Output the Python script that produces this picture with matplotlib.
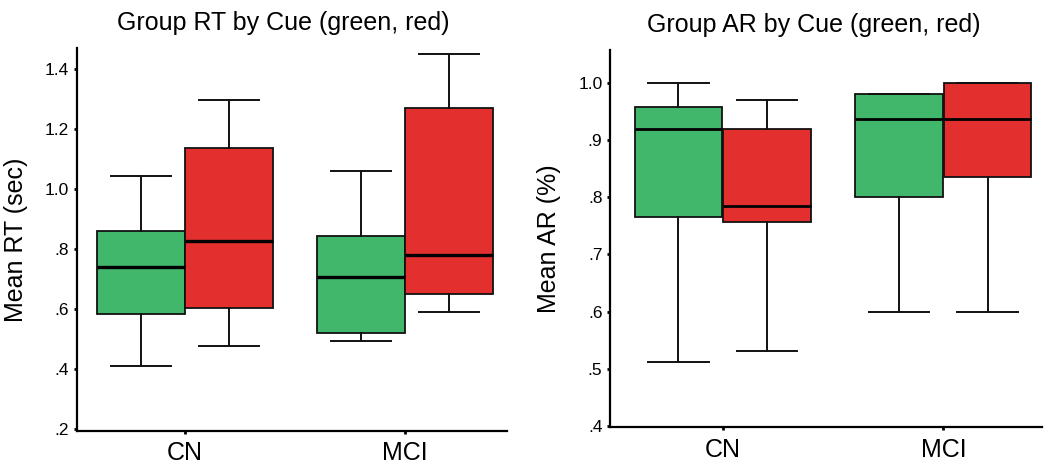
import matplotlib
matplotlib.use("Agg")
import matplotlib.pyplot as plt

plt.rcParams['font.family'] = ['Liberation Sans', 'DejaVu Sans']

groups = ["CN", "MCI"]
cues = ["green", "red"]
cue_colors = ["#41b76c", "#e3302f"]

# RT (sec): [group][cue] -> whislo, q1, med, q3, whishi
rt_whislo = [[0.410, 0.478], [0.493, 0.592]]
rt_q1     = [[0.583, 0.605], [0.522, 0.650]]
rt_med    = [[0.742, 0.826], [0.706, 0.781]]
rt_q3     = [[0.859, 1.136], [0.843, 1.270]]
rt_whishi = [[1.045, 1.298], [1.060, 1.450]]

# AR (%): [group][cue]
ar_whislo = [[0.512, 0.532], [0.600, 0.600]]
ar_q1     = [[0.766, 0.757], [0.801, 0.836]]
ar_med    = [[0.919, 0.785], [0.937, 0.937]]
ar_q3     = [[0.957, 0.919], [0.980, 1.000]]
ar_whishi = [[1.000, 0.969], [0.980, 1.000]]

rt_ticks = [0.2, 0.4, 0.6, 0.8, 1.0, 1.2, 1.4]
rt_ticklabels = [".2", ".4", ".6", ".8", "1.0", "1.2", "1.4"]
ar_ticks = [0.4, 0.5, 0.6, 0.7, 0.8, 0.9, 1.0]
ar_ticklabels = [".4", ".5", ".6", ".7", ".8", ".9", "1.0"]

fig = plt.figure(figsize=(10.5, 4.7), dpi=100)
ax1 = fig.add_axes([0.0733, 0.0836, 0.4095, 0.814])
ax2 = fig.add_axes([0.581, 0.0909, 0.411, 0.803])

W = 0.40


def draw(ax, wl, q1, med, q3, wh, ticks, ticklabels, ylim, xlim, title, title_x, ylabel, med_lw):
    for gi, g in enumerate(groups):
        for ci, c in enumerate(cues):
            pos = gi + (ci - 0.5) * W
            st = dict(whislo=wl[gi][ci], q1=q1[gi][ci], med=med[gi][ci],
                      q3=q3[gi][ci], whishi=wh[gi][ci], fliers=[])
            ax.bxp([st], positions=[pos], widths=W * 0.995, patch_artist=True,
                   showfliers=False, manage_ticks=False,
                   boxprops=dict(facecolor=cue_colors[ci], edgecolor="#111111", linewidth=1.3),
                   medianprops=dict(color="black", linewidth=med_lw, solid_capstyle="butt"),
                   whiskerprops=dict(color="#111111", linewidth=1.4),
                   capprops=dict(color="#111111", linewidth=1.4),
                   capwidths=W * 0.68, zorder=2)
    ax.set_xlim(*xlim)
    ax.set_ylim(*ylim)
    ax.set_xticks(range(len(groups)))
    ax.set_xticklabels(groups, fontsize=18)
    ax.set_yticks(ticks)
    ax.set_yticklabels(ticklabels, fontsize=12.5)
    ax.spines["top"].set_visible(False)
    ax.spines["right"].set_visible(False)
    ax.spines["left"].set_linewidth(1.6)
    ax.spines["bottom"].set_linewidth(1.6)
    ax.tick_params(axis="y", length=2.5, width=2, pad=3)
    ax.tick_params(axis="x", length=2.5, width=2, pad=5)
    ax.set_ylabel(ylabel, fontsize=18, labelpad=12)
    ax.set_title(title, fontsize=18, pad=13, x=title_x)


draw(ax1, rt_whislo, rt_q1, rt_med, rt_q3, rt_whishi, rt_ticks, rt_ticklabels,
     (0.195, 1.47), (-0.49, 1.464), "Group RT by Cue (green, red)", 0.48, "Mean RT (sec)", 2.4)
draw(ax2, ar_whislo, ar_q1, ar_med, ar_q3, ar_whishi, ar_ticks, ar_ticklabels,
     (0.3985, 1.057), (-0.51, 1.445), "Group AR by Cue (green, red)", 0.4725, "Mean AR (%)", 2.0)

fig.savefig("out.png", dpi=100)
